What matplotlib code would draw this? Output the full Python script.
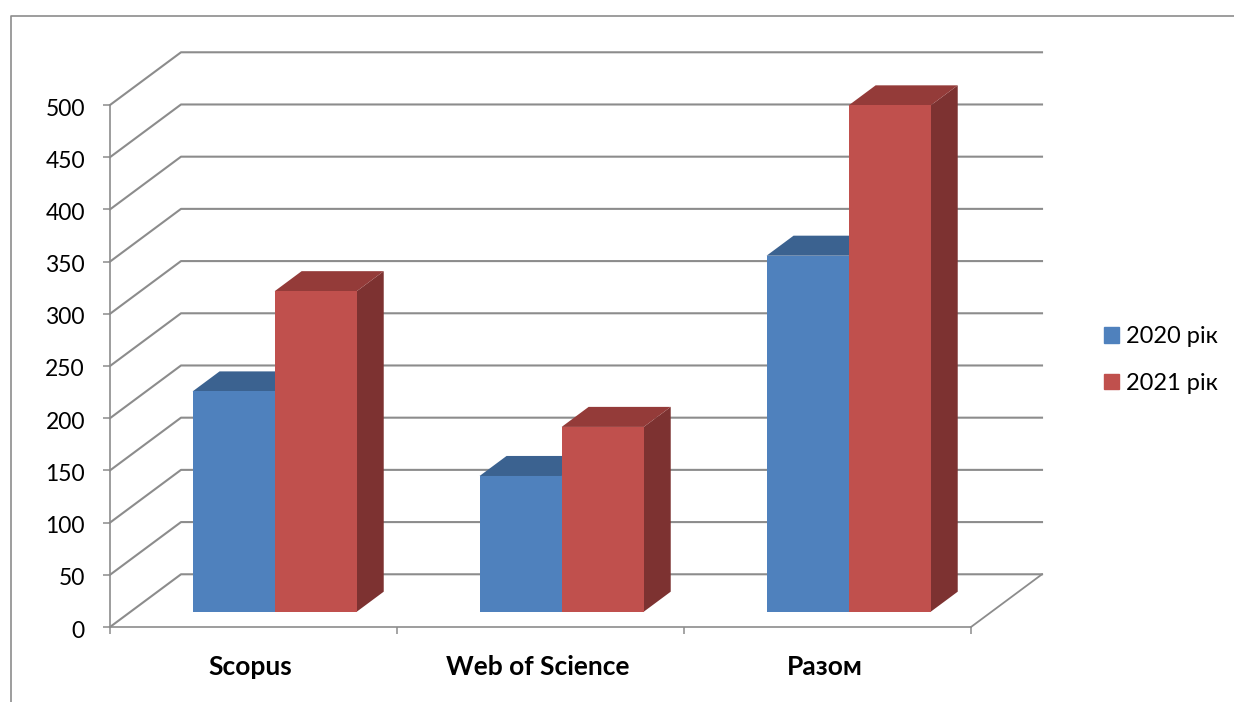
import numpy as np
import matplotlib
matplotlib.use("Agg")
import matplotlib.pyplot as plt
from matplotlib.patches import Patch
from matplotlib.lines import Line2D
from matplotlib.transforms import ScaledTranslation

plt.rcParams["font.family"] = ["Lato", "DejaVu Sans"]

categories = ["Scopus", "Web of Science", "Разом"]
series_names = ["2020 рік", "2021 рік"]
values_2020 = [211, 130, 341]
values_2021 = [307, 177, 485]
yticks = [0, 50, 100, 150, 200, 250, 300, 350, 400, 450, 500]

W, H = 1234, 702
GREY = "#8c8c8c"
FRONT = ["#4f81bd", "#c0504d"]
TOP = ["#3b6290", "#943b39"]
SIDE = ["#375a85", "#7d3231"]

# oblique depth of the box, in data units
DX, DY = 0.2474, 50.5
D1, D2 = 0.29, 0.67   # where bars sit in the depth
GAP = 0.216
BAR_W = 0.286

fig = plt.figure(figsize=(W / 100, H / 100), dpi=100)
ax = fig.add_axes([110 / W, 1 - 627 / H, 861 / W, 522 / H])
ax.set_xlim(0, 3)
ax.set_ylim(0, 500)
ax.patch.set_visible(False)

# walls and floor
for y in yticks:
    ax.plot([0, DX, 3 + DX], [y, y + DY, y + DY], color=GREY, lw=1.5, clip_on=False, zorder=1)
ax.plot([3, 3 + DX], [0, DY], color=GREY, lw=1.3, clip_on=False, zorder=1)

for s, vals in enumerate([values_2020, values_2021]):
    for i, v in enumerate(vals):
        x0 = i + GAP + s * BAR_W + D1 * DX
        x1 = x0 + BAR_W
        y0 = D1 * DY
        ddx = (D2 - D1) * DX
        ddy = (D2 - D1) * DY
        ax.bar(x0, v, width=BAR_W, bottom=y0, align="edge", color=FRONT[s],
            clip_on=False, zorder=4 + s * 3, linewidth=0)
        ax.fill([x0, x0 + ddx, x1 + ddx, x1], [y0 + v, y0 + v + ddy, y0 + v + ddy, y0 + v],
            color=TOP[s], clip_on=False, zorder=3 + s * 3, linewidth=0)
        ax.fill([x1, x1 + ddx, x1 + ddx, x1], [y0, y0 + ddy, y0 + v + ddy, y0 + v],
            color=SIDE[s], clip_on=False, zorder=2 + s * 3, linewidth=0)

ax.spines["top"].set_visible(False)
ax.spines["right"].set_visible(False)
for side in ["left", "bottom"]:
    ax.spines[side].set_color(GREY)
    ax.spines[side].set_linewidth(1.2)

ax.set_yticks(yticks)
ax.tick_params(axis="y", length=5, width=1.1, color=GREY, pad=13, labelsize=16.5, labelcolor="black")
# labels sit a touch below their ticks in the original
nudge = ScaledTranslation(0, -2 / 100, fig.dpi_scale_trans)
for lab in ax.get_yticklabels():
    lab.set_transform(lab.get_transform() + nudge)
ax.set_xticks([0, 1, 2, 3])
ax.set_xticklabels([])
ax.tick_params(axis="x", which="major", length=5, width=1.1, color=GREY)
ax.set_xticks([0.49, 1.49, 2.49], labels=categories, minor=True)
ax.tick_params(axis="x", which="minor", length=0, pad=20)
for lab in ax.get_xticklabels(minor=True):
    lab.set_fontsize(19)
    lab.set_fontweight("bold")

# chart border, runs off the page on the right and at the bottom
fig.add_artist(Line2D([11 / W, 11 / W, 1], [0, 1 - 16 / H, 1 - 16 / H], color=GREY, lw=1.2))

handles = [Patch(color=FRONT[0]), Patch(color=FRONT[1])]
fig.legend(handles, series_names, loc="center left", bbox_to_anchor=(1104 / W, 1 - 360 / H),
    frameon=False, fontsize=17, handlelength=0.64, handleheight=0.64, handletextpad=0.3,
    labelspacing=1.08, borderpad=0, borderaxespad=0)

fig.savefig("out.png", dpi=100)
